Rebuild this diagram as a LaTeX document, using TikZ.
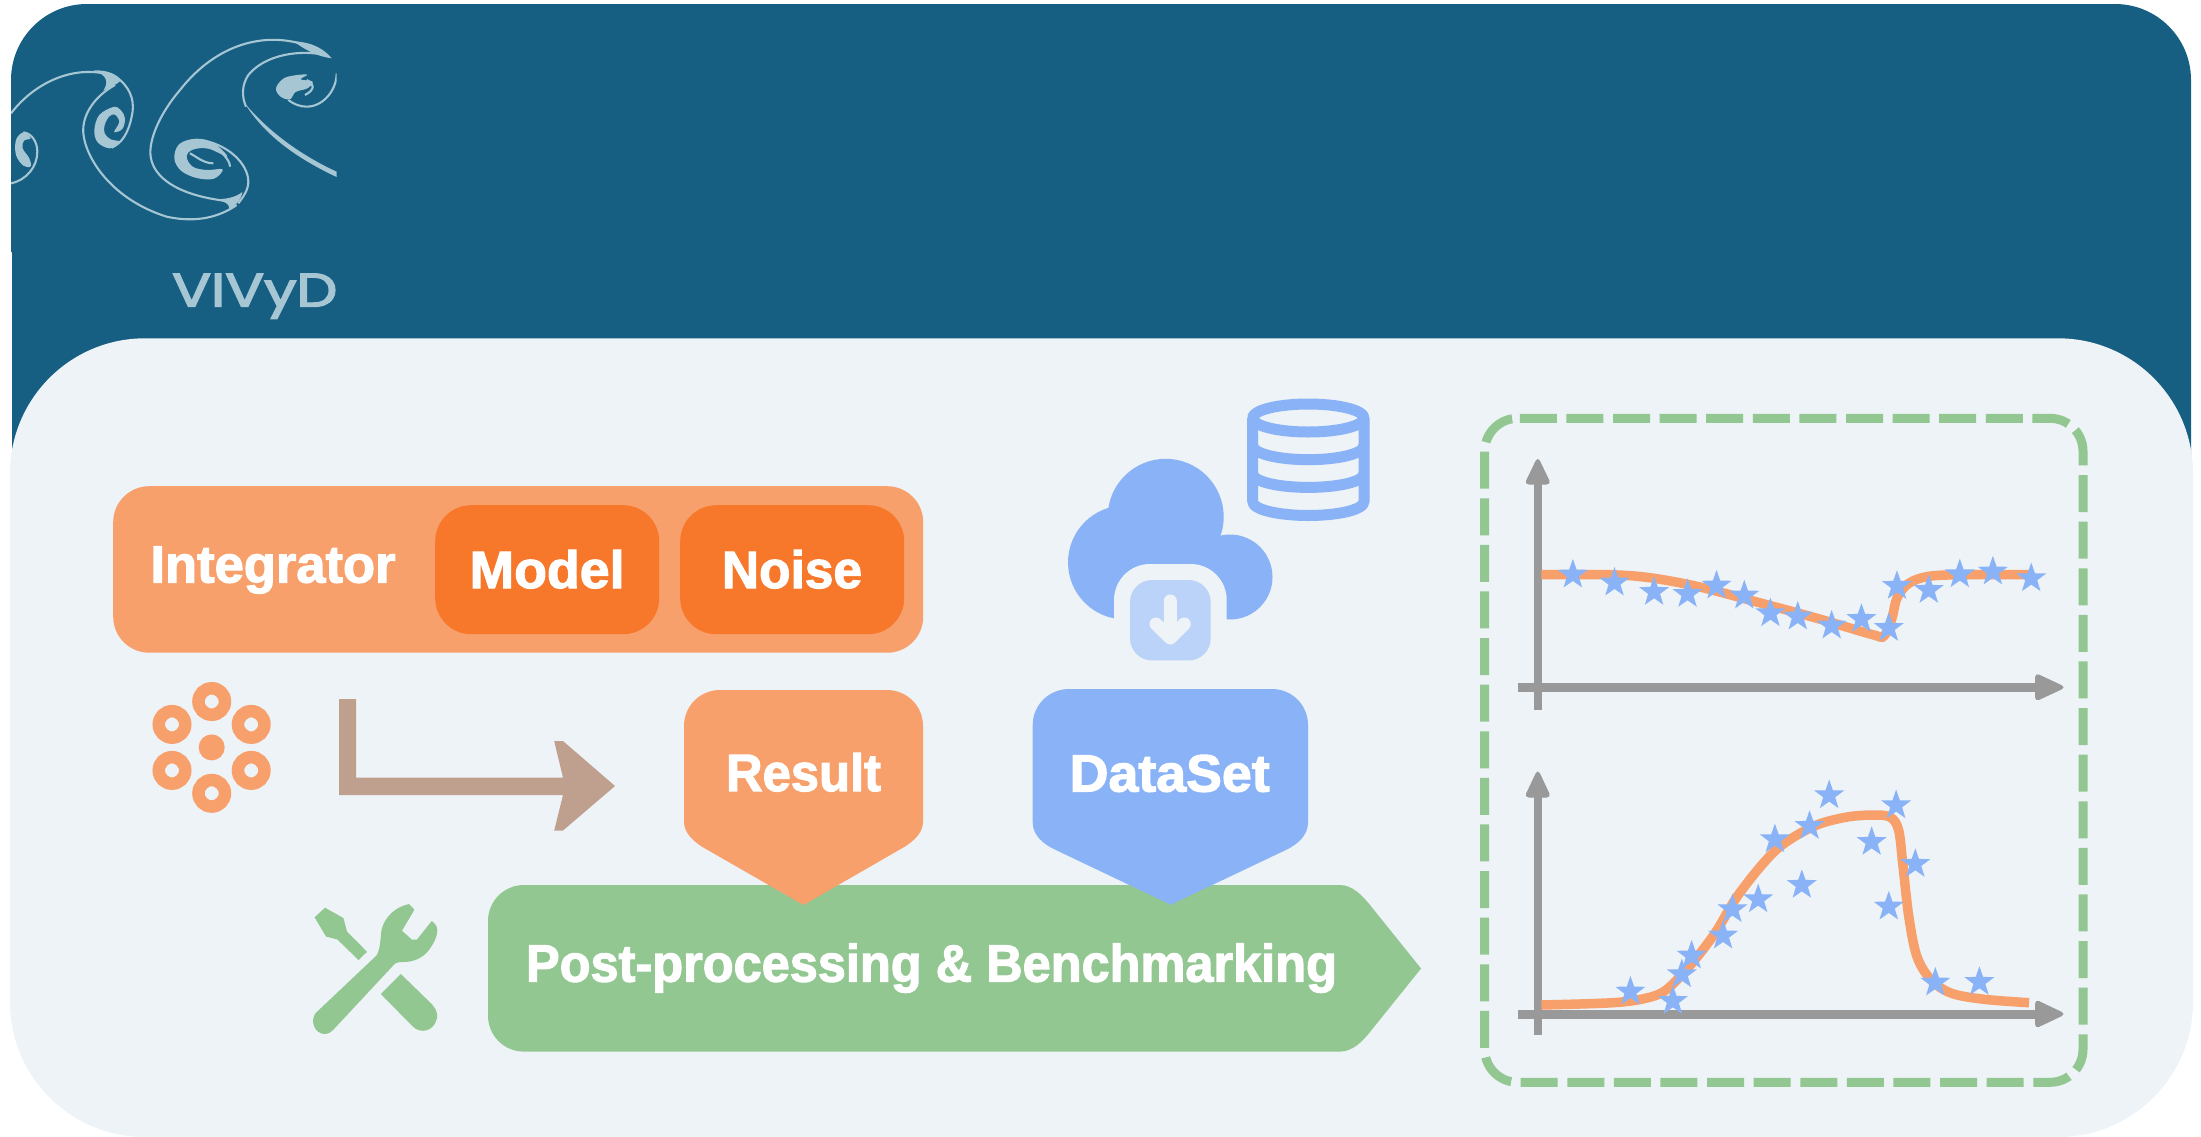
\documentclass[tikz,border=0pt]{standalone}
\usepackage{fontspec}
\usepackage{graphicx}
\usetikzlibrary{shapes.geometric}
\newfontfamily\lblfont[BoldFeatures={FakeBold=2.2}]{Liberation Sans}
\newfontfamily\logofont[FakeBold=3]{Poppins}
\definecolor{darkblue}{HTML}{165F82}
\definecolor{panel}{HTML}{EDF3F6}
\definecolor{orangeL}{HTML}{F8A06C}
\definecolor{orangeD}{HTML}{F7782B}
\definecolor{blueL}{HTML}{8AB3F7}
\definecolor{blueP}{HTML}{BCD3F9}
\definecolor{greenL}{HTML}{93C792}
\definecolor{brownL}{HTML}{BFA08E}
\definecolor{greyL}{HTML}{999999}
\definecolor{logoc}{HTML}{A6C6D4}
\newcommand{\fitw}[2]{\resizebox{#1pt}{\height}{\lblfont\bfseries\fontsize{52.5}{60}\selectfont #2}}
\tikzset{
  lbl/.style={text=white,anchor=base west,inner sep=0pt,outer sep=0pt},
  boxo/.style={rectangle,rounded corners=36pt,inner sep=0pt,anchor=north west},
  starmark/.style={star,star points=5,star point ratio=2.5,minimum size=31.5pt,inner sep=0pt,fill=blueL},
  ringmark/.style={circle,draw=orangeL,line width=12.5pt,minimum size=26.5pt,inner sep=0pt},
  curveline/.style={draw=orangeL,line width=9.5pt},
  axisline/.style={draw=greyL},
  axishead/.style={fill=greyL,draw=greyL,line width=1pt,rounded corners=4pt},
  thinl/.style={draw=logoc,line width=2.1pt},
}
\begin{document}
\begin{tikzpicture}[x=1pt,y=-1pt]
\useasboundingbox (0,0) rectangle (2201,1136);
\clip (0,0) rectangle (2201,1136);
% header band
\fill[darkblue] (11,252) -- (11,80) .. controls (11,38) and (45,4) .. (87,4) -- (2115,4) .. controls (2157,4) and (2191,38) .. (2191,80) -- (2191,480) -- (12,480) -- (12,252) -- cycle;
% logo
\begin{scope}[x=0.33333pt,y=-0.33333pt]
\clip (33,0) rectangle (1010,700);
\draw[thinl] (930,140) .. controls (800,90) and (650,130) .. (540,270) .. controls (480,340) and (445,420) .. (452,470) .. controls (460,530) and (530,590) .. (700,605);
\fill[logoc] (995,175) .. controls (950,168) and (925,155) .. (880,124) .. controls (940,126) and (975,150) .. (995,175) -- cycle;
\draw[thinl] (960,162) .. controls (880,150) and (790,170) .. (745,225) .. controls (725,255) and (725,290) .. (738,320);
\fill[logoc] (733,308) .. controls (790,400) and (880,470) .. (1012,532) -- (1012,516) .. controls (900,465) and (800,390) .. (733,308) -- cycle;
\draw[thinl] (1010,220) .. controls (1010,270) and (970,320) .. (920,320) .. controls (900,320) and (880,312) .. (865,300);
\fill[logoc] plot[smooth cycle,tension=0.6] coordinates {(828,265) (850,236) (885,226) (922,224) (902,238) (938,245) (922,265) (887,276) (870,298) (842,290)};
\draw[thinl] (920,240) .. controls (945,250) and (945,270) .. (915,285);
% middle swirl
\fill[logoc] plot[smooth cycle,tension=0.6] coordinates {(523,475) (538,432) (590,416) (642,430) (682,470) (625,446) (578,449) (560,470) (578,500) (620,510) (668,508) (642,536) (590,534) (543,512)};
\draw[thinl] (600,420) .. controls (680,430) and (745,490) .. (745,545) .. controls (745,570) and (730,590) .. (715,610);
\draw[thinl] (640,440) .. controls (665,455) and (690,480) .. (690,500);
\draw[thinl] (570,460) .. controls (590,470) and (610,490) .. (640,490);
\fill[logoc] (635,597) .. controls (680,600) and (710,590) .. (727,576) .. controls (724,600) and (705,618) .. (685,632) .. controls (695,610) and (670,603) .. (635,597) -- cycle;
\draw[thinl] (345,255) .. controls (290,285) and (245,340) .. (250,400) .. controls (258,480) and (340,600) .. (500,650) .. controls (590,670) and (660,650) .. (710,615);
\draw[thinl] (330,225) .. controls (230,195) and (110,240) .. (33,340);
\fill[logoc] (280,211) .. controls (330,210) and (350,225) .. (364,240) .. controls (350,254) and (335,260) .. (310,272) .. controls (325,250) and (325,225) .. (280,211) -- cycle;
\draw[thinl] (360,240) .. controls (395,270) and (405,310) .. (395,350) .. controls (385,400) and (365,430) .. (335,443);
\fill[logoc] plot[smooth cycle,tension=0.6] coordinates {(340,321) (298,345) (283,390) (293,427) (330,445) (358,425) (332,418) (314,400) (314,375) (328,349) (345,344) (358,365) (348,385) (343,397) (367,387) (375,355) (362,330)};
\draw[thinl] (33,550) .. controls (80,540) and (112,500) .. (112,455) .. controls (112,425) and (95,400) .. (70,397);
\fill[logoc] plot[smooth cycle,tension=0.6] coordinates {(48,420) (70,397) (92,415) (72,422) (68,445) (88,475) (92,499) (70,497) (48,465)};
\end{scope}
\node[anchor=base west,inner sep=0pt,text=logoc] (logotext) at (172,306.5) {\resizebox{165pt}{\height}{\logofont\fontsize{47}{50}\selectfont VIVyD}};
% panel
\fill[panel,rounded corners=135pt] (10,338.3) rectangle (2193,1137);
% integrator
\node[boxo,fill=orangeL,minimum width=810pt,minimum height=166.5pt] (integ) at (113,486) {};
\node[boxo,fill=orangeD,minimum width=224pt,minimum height=129pt] (model) at (435,505) {};
\node[boxo,fill=orangeD,minimum width=224pt,minimum height=129pt] (noise) at (680,505) {};
\node[lbl] (tinteg) at (150.5,582.5) {\fitw{245}{Integrator}};
\node[lbl] (tmodel) at (469.5,588) {\fitw{155}{Model}};
\node[lbl] (tnoise) at (722,588) {\fitw{140}{Noise}};
% molecule
\node[ringmark] (r1) at (211.7,701.5) {};
\node[ringmark] (r2) at (172,724.4) {};
\node[ringmark] (r3) at (251.2,724.4) {};
\node[ringmark] (r4) at (172,770.4) {};
\node[ringmark] (r5) at (251.2,770.4) {};
\node[ringmark] (r6) at (211.7,793.3) {};
\node[circle,fill=orangeL,minimum size=26pt,inner sep=0pt] (r0) at (211.7,747.4) {};
% L arrow
\fill[brownL] (339,699) -- (356,699) -- (356,777.6) -- (563,777.6) -- (554.2,741) -- (563,741) -- (615,786) -- (563,830.5) -- (554.2,830.5) -- (563,795) -- (339,795) -- cycle;
% post-processing
\fill[greenL] (524,885) -- (1340,885) .. controls (1352,885) and (1362,895) .. (1370,905) -- (1421,968.5) -- (1370,1032) .. controls (1362,1042) and (1352,1051.6) .. (1340,1051.6) -- (524,1051.6) .. controls (504,1051.6) and (488,1035.6) .. (488,1015.6) -- (488,921) .. controls (488,901) and (504,885) .. (524,885) -- cycle;
\node[lbl] (tpost) at (526,981.6) {\fitw{811}{Post-processing \& Benchmarking}};
% result
\fill[orangeL] (720,690) -- (887,690) .. controls (907,690) and (923,706) .. (923,726) -- (923,822) .. controls (923,832) and (915,840) .. (905,846.5) -- (803.5,905) -- (701.6,846.5) .. controls (692,840) and (684,832) .. (684,822) -- (684,726) .. controls (684,706) and (700,690) .. (720,690) -- cycle;
\node[lbl] (tresult) at (726,791) {\fitw{155}{Result}};
% dataset
\fill[blueL] (1069,689) -- (1272,689) .. controls (1292,689) and (1308,705) .. (1308,725) -- (1308,822.6) .. controls (1308,835) and (1298,844) .. (1286.7,849.6) -- (1170.7,904.7) -- (1055,849.6) .. controls (1043,844) and (1032.7,835) .. (1032.7,822.6) -- (1032.7,725) .. controls (1032.7,705) and (1049,689) .. (1069,689) -- cycle;
\node[lbl] (tdata) at (1069.7,791.5) {\fitw{200}{DataSet}};
% tools
\fill[greenL] (315.7,1013) .. controls (310,1020) and (314,1034) .. (325,1034) .. controls (329,1034) and (332,1031) .. (334,1029) -- (392.7,966) .. controls (395,962) and (400,962) .. (403.5,962) .. controls (415,962) and (425,957) .. (431,947) .. controls (437,938) and (440,928) .. (434,923) -- (431.7,921) -- (417,939.5) -- (411.7,939.5) -- (402,930.7) -- (414.4,909.7) -- (409,904) .. controls (395,907) and (385,917) .. (381.8,928.8) .. controls (380,938) and (381,948) .. (376.4,955.6) -- cycle;
\fill[greenL] (325,907.7) -- (314.6,917.3) -- (326,936.5) -- (337.4,939.5) -- (358.5,960) -- (367,951.8) -- (347,931.5) -- (343.4,918) -- cycle;
\fill[greenL] (400.8,974) -- (380.8,994) -- (412.7,1026.4) .. controls (420,1034) and (434,1032) .. (437,1018) .. controls (438,1012) and (435,1008) .. (431.7,1004) -- cycle;
% cloud
\fill[blueL] (1165.7,516.8) circle[radius=58pt];
\fill[blueL] (1125,562.4) circle[radius=57pt];
\fill[blueL] (1230,577) circle[radius=42.5pt];
\fill[blueL] (1125,555) rectangle (1226,619);
\fill[panel,rounded corners=36pt] (1114,564) rectangle (1226.7,684);
\fill[blueP,rounded corners=22pt] (1130,580) rectangle (1210.7,660.4);
\draw[panel,line width=13pt,line cap=round,line join=round] (1170.3,601) -- (1170.3,636) (1156,624) -- (1170.3,638) -- (1184.3,624);
% database
\begin{scope}[draw=blueL,line width=11pt,line join=round]
\draw (1308.3,418) ellipse[x radius=55.7pt,y radius=14pt];
\draw (1252.7,418) -- (1252.7,501.5) .. controls (1252.7,510) and (1280,515.5) .. (1308.3,515.5) .. controls (1337,515.5) and (1364,510) .. (1364,501.5) -- (1364,418);
\draw (1252.7,445.5) .. controls (1252.7,454) and (1280,459.7) .. (1308.3,459.7) .. controls (1337,459.7) and (1364,454) .. (1364,445.5);
\draw (1252.7,473.5) .. controls (1252.7,482) and (1280,487.4) .. (1308.3,487.4) .. controls (1337,487.4) and (1364,482) .. (1364,473.5);
\end{scope}
% dashed frame
\draw[greenL,line width=9pt,dash pattern=on 37pt off 9.6pt,rounded corners=33pt] (1519.8,418.3) -- (2083,418.3) -- (2083,1082.3) -- (1484.7,1082.3) -- (1484.7,418.3) -- (1519.8,418.3);
% top plot
\coordinate (ta0) at (1537.8,710);
\coordinate (ta1) at (1537.8,482);
\coordinate (tb0) at (1518,687.3);
\coordinate (tb1) at (2037,687.3);
\draw[axisline,line width=7.5pt] (ta0) -- (ta1);
\draw[axisline,line width=9pt] (tb0) -- (tb1);
\filldraw[axishead] (1537.8,457.5) -- (1550.5,484) -- (1525,484) -- cycle;
\filldraw[axishead] (2065,687.3) -- (2035.5,673.5) -- (2035.5,701) -- cycle;
\draw[curveline] plot[smooth,tension=0.55] coordinates {(1541.4,574.7) (1608.8,574.7) (1649.6,577.7) (1698.6,586.7) (1755.7,601.7) (1817,618.3) (1872,634.5) (1884,636) (1892,618) (1897,598) (1908.8,583.3) (1931,576) (1972,574.7) (2029,574.7)};
\foreach \zx/\zy [count=\i] in {252/524,354/548,451/576,533/582,604/557,672/587,736/640,803/650,886/677,959/657,1026/684,1046/558,1124/570,1200/523,1281/515,1375/535}
  \node[starmark] (sa\i) at ({1470+\zx/2.45},{400+\zy/3}) {};
% bottom plot
\coordinate (ba0) at (1537.8,1035);
\coordinate (ba1) at (1537.8,795);
\coordinate (bb0) at (1518,1014);
\coordinate (bb1) at (2037,1014);
\draw[axisline,line width=7.5pt] (ba0) -- (ba1);
\draw[axisline,line width=9pt] (bb0) -- (bb1);
\filldraw[axishead] (1537.8,770) -- (1550.5,797) -- (1525,797) -- cycle;
\filldraw[axishead] (2065,1014) -- (2035.5,1000) -- (2035.5,1028) -- cycle;
\draw[curveline] plot[smooth,tension=0.55] coordinates {(1541.4,1005) (1612.9,1002.7) (1645.5,998.3) (1666,990) (1690.4,965) (1714.9,933.3) (1739.4,893.3) (1776,850) (1812.9,826.7) (1845.5,817.3) (1874,815) (1890.4,817.3) (1898.6,830) (1902.7,863.3) (1908.8,916.7) (1917,956.7) (1931.2,980) (1951.6,993.3) (1984.3,999.3) (2029,1002.7)};
\foreach \zx/\zy [count=\i] in {393/785,497/813,519/733,543/677,620/617,643/538,706/508,813/465,747/328,832/288,880/196,1044/226,984/336,1091/402,1026/530,1140/758,1248/756}
  \node[starmark] (sb\i) at ({1470+\zx/2.45},{730+\zy/3}) {};
\end{tikzpicture}
\end{document}
